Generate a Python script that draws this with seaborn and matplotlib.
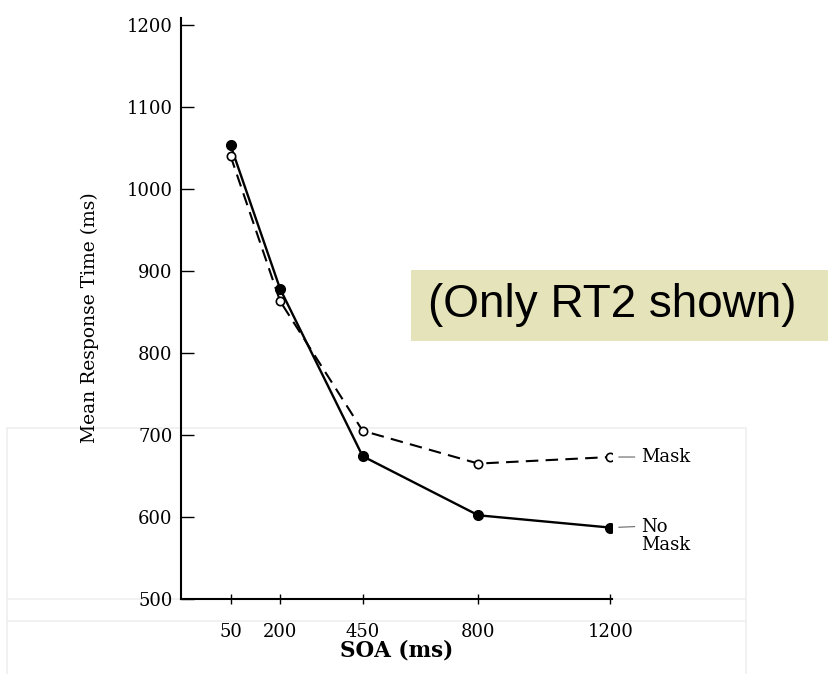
# plot.py - mean RT2 vs SOA, mask / no mask

import pandas as pd
import matplotlib
matplotlib.use("Agg")
import matplotlib.pyplot as plt
import seaborn as sns
from matplotlib.patches import Rectangle
from matplotlib.lines import Line2D

# ======== DATA =========
soa = [50, 200, 450, 800, 1200]
rt_no_mask = [1053, 878, 674, 602, 587]
rt_mask = [1040, 863, 705, 665, 673]
x_ticks = [50, 200, 450, 800, 1200]
y_ticks = [500, 600, 700, 800, 900, 1000, 1100, 1200]

df = pd.DataFrame({"soa": soa, "no_mask": rt_no_mask, "mask": rt_mask})

# ======== STYLE =========
sns.set_style("ticks")
plt.rcParams["font.family"] = ["DejaVu Serif"]
for k in ["text.color", "axes.labelcolor", "xtick.color", "ytick.color"]:
    plt.rcParams[k] = "black"

fig = plt.figure(figsize=(8.29, 6.74), dpi=100)
ax = fig.add_axes([0.2183, 0.1113, 0.52, 0.862])
ax.patch.set_alpha(0)

# faint scan artefacts in the lower half
for yy in [0.365, 0.112, 0.078]:
    fig.add_artist(Line2D([0.008, 0.9], [yy, yy], color="#efefef", lw=1.2, zorder=0))
for xx in [0.008, 0.9]:
    fig.add_artist(Line2D([xx, xx], [0.0, 0.365], color="#efefef", lw=1.2, zorder=0))

# ======== PLOT =========
sns.lineplot(data=df, x="soa", y="no_mask", ax=ax, color="black", lw=1.7,
             marker="o", markersize=7, markerfacecolor="black",
             markeredgecolor="black", markeredgewidth=1, zorder=3)
sns.lineplot(data=df, x="soa", y="mask", ax=ax, color="black", lw=1.5,
             linestyle=(0, (6, 3.5)), marker="o", markersize=6,
             markerfacecolor="white", markeredgecolor="black",
             markeredgewidth=1.2, zorder=4)

ax.set_xlim(-100, 1205)
ax.set_ylim(500, 1208)
ax.set_xticks(x_ticks)
ax.set_yticks(y_ticks)
ax.tick_params(axis="x", direction="inout", length=7, width=1, labelsize=13, pad=14)
ax.tick_params(axis="y", direction="in", length=9, width=1, labelsize=13, pad=6)
sns.despine(ax=ax)
for s in ["left", "bottom"]:
    ax.spines[s].set_linewidth(1.5)
    ax.spines[s].set_color("black")

ax.set_xlabel("SOA (ms)", fontsize=15.5, fontweight="bold", labelpad=-1)
ax.set_ylabel("Mean Response Time (ms)", fontsize=13.5)
ax.yaxis.set_label_coords(-0.19, 0.484)

# line labels at the right end
ax.annotate("Mask", xy=(1200, rt_mask[-1]), xytext=(1292, rt_mask[-1]),
            fontsize=13, va="center", ha="left", annotation_clip=False,
            arrowprops=dict(arrowstyle="-", color="#666666", lw=0.8,
                            shrinkA=2, shrinkB=6))
ax.annotate("No\nMask", xy=(1200, rt_no_mask[-1]), xytext=(1292, rt_no_mask[-1] + 12),
            fontsize=13, va="top", ha="left", annotation_clip=False,
            linespacing=1.0,
            arrowprops=dict(arrowstyle="-", color="#666666", lw=0.8,
                            shrinkA=2, shrinkB=6, relpos=(0, 0.76)))

# ======== NOTE BOX =========
fig.add_artist(Rectangle((0.496, 0.494), 0.504, 0.105, transform=fig.transFigure,
                         facecolor="#e5e3b9", edgecolor="none", zorder=5))
fig.text(0.516, 0.547, "(Only RT2 shown)", fontsize=33, family="Liberation Sans",
         va="center", ha="left", zorder=6)

fig.savefig("out.png", dpi=100)
